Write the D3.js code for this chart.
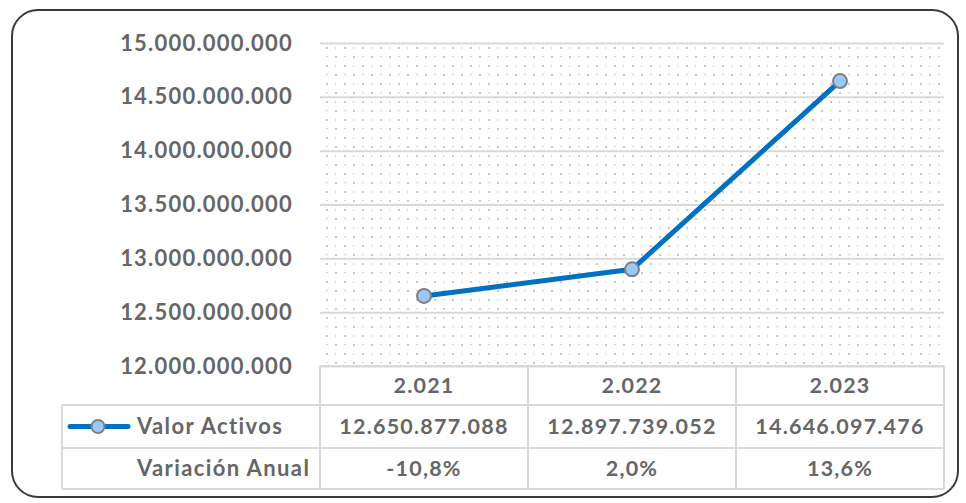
<!DOCTYPE html>
<html lang="es">
<head>
<meta charset="UTF-8">
<title>Valor Activos</title>
<script src="https://cdn.jsdelivr.net/npm/d3@7"></script>
<style>
  body { margin: 0; background: #fff; }
  text { font-family: Lato, "Open Sans", sans-serif; font-weight: bold; fill: #666; }
</style>
</head>
<body>
<div id="chart"></div>
<script>
var years = ['2.021', '2.022', '2.023'];
var valorActivos = [12650877088, 12897739052, 14646097476];
var variacion = [-0.108, 0.020, 0.136];
var yTicks = [12000000000, 12500000000, 13000000000, 13500000000, 14000000000, 14500000000, 15000000000];

var width = 966, height = 503;
var plotL = 320, plotR = 944, plotT = 43, plotB = 366;
var rows = [366, 405, 448, 489];
var legendLeft = 62;

var es = d3.formatLocale({decimal: ',', thousands: '.', grouping: [3], currency: ['$', ''], minus: '-'});
var fmtNum = es.format(',d');
var fmtPct = es.format('.1%');

var svg = d3.select('#chart').append('svg')
    .attr('width', width)
    .attr('height', height);

// dotted plot fill
var defs = svg.append('defs');
var pat = defs.append('pattern')
    .attr('id', 'dots')
    .attr('patternUnits', 'userSpaceOnUse')
    .attr('x', plotL).attr('y', plotT)
    .attr('width', 18).attr('height', 18);
pat.append('rect').attr('x', 6).attr('y', 4).attr('width', 2).attr('height', 2).attr('fill', '#c8c8c8');
pat.append('rect').attr('x', 15).attr('y', 13).attr('width', 2).attr('height', 2).attr('fill', '#c8c8c8');
pat.append('rect').attr('x', 15).attr('y', 4).attr('width', 1.2).attr('height', 2).attr('fill', '#d6d6d6');
pat.append('rect').attr('x', 6).attr('y', 13).attr('width', 2).attr('height', 1.2).attr('fill', '#d6d6d6');

svg.append('rect')
    .attr('x', 12).attr('y', 10)
    .attr('width', 946).attr('height', 487)
    .attr('rx', 26)
    .attr('fill', '#fff')
    .attr('stroke', '#3a3a3a')
    .attr('stroke-width', 2);

var xScale = d3.scaleBand().domain(years).range([plotL, plotR]);
var yScale = d3.scaleLinear().domain([12000000000, 15000000000]).range([plotB, plotT]);

svg.append('rect')
    .attr('x', plotL).attr('y', plotT)
    .attr('width', plotR - plotL).attr('height', plotB - plotT)
    .attr('fill', 'url(#dots)');

// grid + y labels
var yAxis = d3.axisLeft(yScale)
    .tickValues(yTicks)
    .tickFormat(fmtNum)
    .tickSize(-(plotR - plotL))
    .tickPadding(27);

var yAxisG = svg.append('g')
    .attr('transform', 'translate(' + plotL + ',0)')
    .call(yAxis);
yAxisG.select('.domain').remove();
yAxisG.selectAll('line').attr('stroke', '#d9d9d9').attr('stroke-width', 2);
yAxisG.selectAll('text')
    .attr('font-size', 22)
    .attr('letter-spacing', 1.2)
    .attr('font-family', null)
    .attr('fill', '#666');

// line
var line = d3.line()
    .x(function(d, i) { return xScale(years[i]) + xScale.bandwidth() / 2; })
    .y(function(d) { return yScale(d); });

svg.append('path')
    .datum(valorActivos)
    .attr('d', line)
    .attr('fill', 'none')
    .attr('stroke', '#0070c0')
    .attr('stroke-width', 5)
    .attr('stroke-linejoin', 'round');

svg.selectAll('.dot')
    .data(valorActivos)
    .enter()
    .append('circle')
    .attr('class', 'dot')
    .attr('cx', function(d, i) { return xScale(years[i]) + xScale.bandwidth() / 2; })
    .attr('cy', function(d) { return yScale(d); })
    .attr('r', 7)
    .attr('fill', '#99c9fa')
    .attr('stroke', '#7f7f7f')
    .attr('stroke-width', 2);

// data table
var tbl = svg.append('g');
var lc = '#d9d9d9';
// horizontal lines
tbl.append('line').attr('x1', plotL).attr('x2', plotR).attr('y1', rows[0]).attr('y2', rows[0]).attr('stroke', lc).attr('stroke-width', 2);
[rows[1], rows[2], rows[3]].forEach(function(y) {
    tbl.append('line').attr('x1', legendLeft).attr('x2', plotR).attr('y1', y).attr('y2', y).attr('stroke', lc).attr('stroke-width', 2);
});
// vertical lines
tbl.append('line').attr('x1', legendLeft).attr('x2', legendLeft).attr('y1', rows[1]).attr('y2', rows[3]).attr('stroke', lc).attr('stroke-width', 2);
var vx = years.map(function(y) { return xScale(y); }).concat([plotR]);
vx.forEach(function(x) {
    tbl.append('line').attr('x1', x).attr('x2', x).attr('y1', rows[0]).attr('y2', rows[3]).attr('stroke', lc).attr('stroke-width', 2);
});

function cellText(arr, r, fmt) {
    tbl.selectAll('.r' + r)
        .data(arr)
        .enter()
        .append('text')
        .attr('x', function(d, i) { return xScale(years[i]) + xScale.bandwidth() / 2; })
        .attr('y', (rows[r] + rows[r + 1]) / 2)
        .attr('dy', '0.36em')
        .attr('text-anchor', 'middle')
        .attr('font-size', 21.5)
        .attr('letter-spacing', 1.2)
        .text(fmt);
}
cellText(years, 0, function(d) { return d; });
cellText(valorActivos, 1, fmtNum);
cellText(variacion, 2, fmtPct);

// legend key
var ly = (rows[1] + rows[2]) / 2;
tbl.append('line').attr('x1', 70).attr('x2', 128).attr('y1', ly).attr('y2', ly)
    .attr('stroke', '#0070c0').attr('stroke-width', 5).attr('stroke-linecap', 'round');
tbl.append('circle').attr('cx', 98).attr('cy', ly).attr('r', 6.5)
    .attr('fill', '#99c9fa').attr('stroke', '#7f7f7f').attr('stroke-width', 2);
tbl.append('text').attr('x', 137).attr('y', ly).attr('dy', '0.36em')
    .attr('font-size', 22).attr('letter-spacing', 1.4).text('Valor Activos');
tbl.append('text').attr('x', 137).attr('y', (rows[2] + rows[3]) / 2).attr('dy', '0.36em')
    .attr('font-size', 22).attr('letter-spacing', 1.4).text('Variación Anual');
</script>
</body>
</html>
